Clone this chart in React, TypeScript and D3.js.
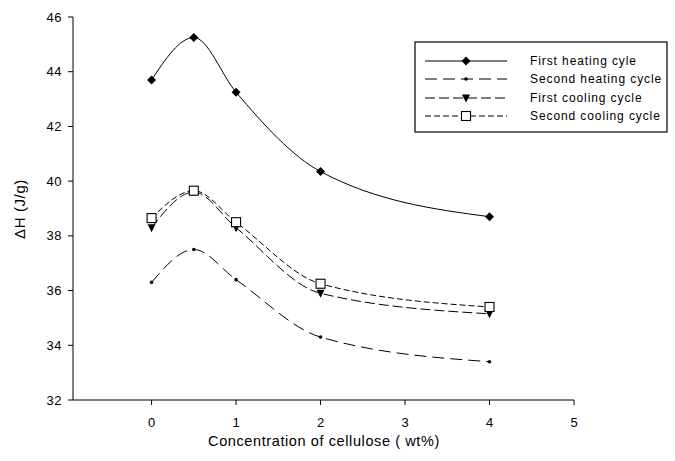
import React from "react";
import * as d3 from "d3";

const xValues = [0, 0.5, 1, 2, 4];
const firstHeating = [43.7, 45.25, 43.25, 40.35, 38.7];
const secondHeating = [36.3, 37.5, 36.4, 34.3, 33.4];
const firstCooling = [38.3, 39.6, 38.3, 35.9, 35.15];
const secondCooling = [38.65, 39.65, 38.5, 36.25, 35.4];
const xTicks = [0, 1, 2, 3, 4, 5];
const yTicks = [32, 34, 36, 38, 40, 42, 44, 46];
const seriesNames = ["First heating cyle", "Second heating cycle", "First cooling cycle", "Second cooling cycle"];

const W = 675, H = 461;
const left = 73, right = 574, top = 17, bottom = 400;

export default function App() {
  const x = d3.scaleLinear().domain([-0.93, 5]).range([left, right]);
  const y = d3.scaleLinear().domain([32, 46]).range([bottom, top]);
  const line = d3.line<number>().x((_, i) => x(xValues[i])).y((v) => y(v)).curve(d3.curveMonotoneX);

  const series = [
    { name: seriesNames[0], values: firstHeating, dash: "none", marker: "diamond" },
    { name: seriesNames[1], values: secondHeating, dash: "12,6", marker: "dot" },
    { name: seriesNames[2], values: firstCooling, dash: "10,4", marker: "tri" },
    { name: seriesNames[3], values: secondCooling, dash: "6,3", marker: "square" },
  ];

  const marker = (m: string, cx: number, cy: number, key: any) => {
    if (m === "diamond") return <path key={key} d={`M${cx},${cy - 4.5}L${cx + 4.5},${cy}L${cx},${cy + 4.5}L${cx - 4.5},${cy}Z`} fill="#000" />;
    if (m === "dot") return <circle key={key} cx={cx} cy={cy} r={1.8} fill="#000" />;
    if (m === "tri") return <path key={key} d={`M${cx - 4},${cy - 3.5}L${cx + 4},${cy - 3.5}L${cx},${cy + 4.5}Z`} fill="#000" />;
    return <rect key={key} x={cx - 4.5} y={cy - 4.5} width={9} height={9} fill="#fff" stroke="#000" strokeWidth={1.1} />;
  };

  const font = "Liberation Sans, Arial, sans-serif";
  const legX = 415, legY = 42, legW = 252, legH = 90;
  const rowY = [61, 79, 98, 116];

  return (
    <svg width={W} height={H} style={{ position: "absolute", left: 0, top: 0, background: "#fff" }} fontFamily={font}>
      <rect width={W} height={H} fill="#fff" />
      <line x1={left} x2={left} y1={top} y2={bottom} stroke="#000" strokeWidth={1} />
      <line x1={left} x2={right} y1={bottom} y2={bottom} stroke="#000" strokeWidth={1} />
      {yTicks.map((t) => (
        <g key={"y" + t}>
          <line x1={left - 5} x2={left} y1={y(t)} y2={y(t)} stroke="#000" />
          <text x={left - 11} y={y(t)} dy="0.35em" textAnchor="end" fontSize={13} letterSpacing={0.5}>{t}</text>
        </g>
      ))}
      {xTicks.map((t) => (
        <g key={"x" + t}>
          <line x1={x(t)} x2={x(t)} y1={bottom} y2={bottom + 5} stroke="#000" />
          <text x={x(t)} y={bottom + 27} textAnchor="middle" fontSize={13}>{t}</text>
        </g>
      ))}
      <text x={324} y={446} textAnchor="middle" fontSize={14.5} letterSpacing={0.6}>Concentration of cellulose ( wt%)</text>
      <text transform={`translate(25,209) rotate(-90)`} textAnchor="middle" fontSize={15} letterSpacing={0.6}>ΔH (J/g)</text>
      {series.map((s, si) => (
        <g key={si}>
          <path d={line(s.values) || ""} fill="none" stroke="#000" strokeWidth={1} strokeDasharray={s.dash} />
          {s.values.map((v, i) => marker(s.marker, x(xValues[i]), y(v), i))}
        </g>
      ))}
      <rect x={legX} y={legY} width={legW} height={legH} fill="#fff" stroke="#000" strokeWidth={1.2} />
      {series.map((s, i) => (
        <g key={"l" + i}>
          <line x1={425} x2={507} y1={rowY[i]} y2={rowY[i]} stroke="#000" strokeDasharray={s.dash} />
          {marker(s.marker, 466, rowY[i], "m")}
          <text x={530} y={rowY[i]} dy="0.35em" fontSize={12} letterSpacing={0.9}>{s.name}</text>
        </g>
      ))}
    </svg>
  );
}
